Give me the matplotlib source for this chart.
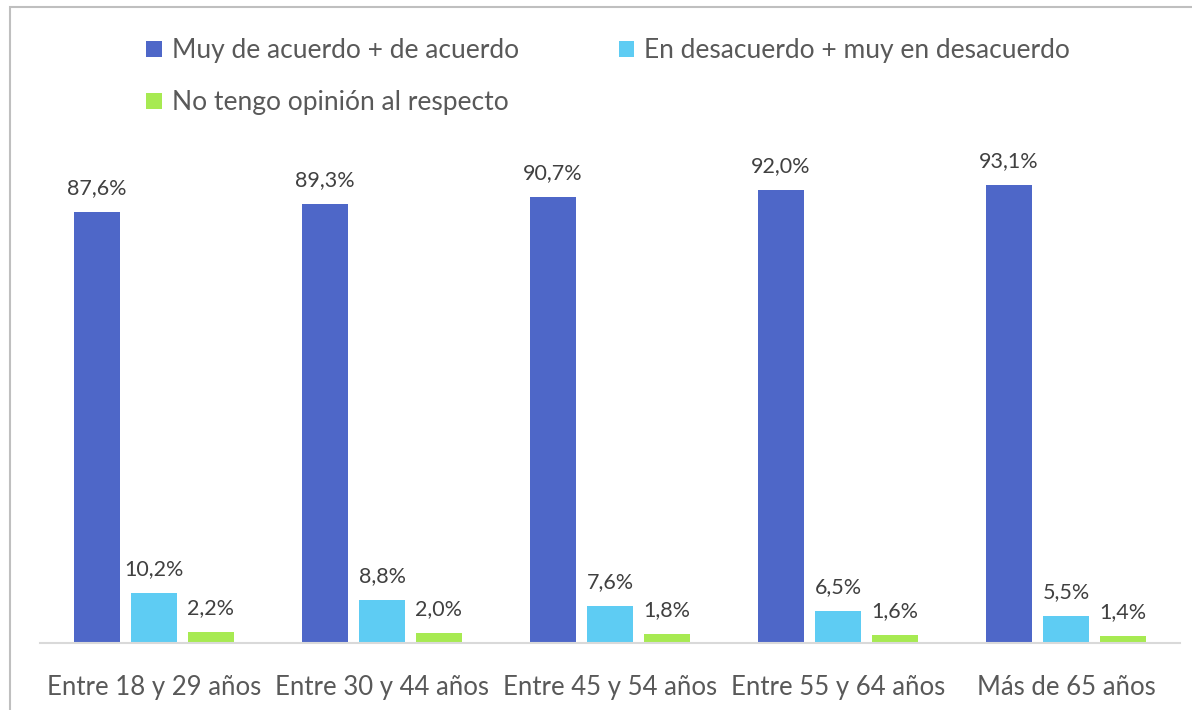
import numpy as np
import matplotlib.pyplot as plt
from matplotlib.patches import Rectangle

plt.rcParams['font.family'] = ['Lato', 'DejaVu Sans']

# datos
categorias = ['Entre 18 y 29 años', 'Entre 30 y 44 años', 'Entre 45 y 54 años',
              'Entre 55 y 64 años', 'Más de 65 años']
de_acuerdo = [87.6, 89.3, 90.7, 92.0, 93.1]
desacuerdo = [10.2, 8.8, 7.6, 6.5, 5.5]
sin_opinion = [2.2, 2.0, 1.8, 1.6, 1.4]
series = ['Muy de acuerdo + de acuerdo', 'En desacuerdo + muy en desacuerdo',
          'No tengo opinión al respecto']
colores = ['#4E67C8', '#5ECCF3', '#A7EA52']

fig = plt.figure(figsize=(11.92, 7.10), dpi=100)
# marco del grafico
fig.patches.append(Rectangle((10/1192, -0.1), 1.2, 0.1 + (710-7)/710,
                             transform=fig.transFigure, fill=False,
                             edgecolor='#BFBFBF', linewidth=1.5))

ax = fig.add_axes([40/1192, 67/710, 1140/1192, 492/710])
x = np.arange(len(categorias))
w = 0.2
off = 0.25
handles = []
for i, (vals, nombre) in enumerate(zip([de_acuerdo, desacuerdo, sin_opinion], series)):
    barras = ax.bar(x + (i - 1) * off, vals, w, color=colores[i], label=nombre)
    handles.append(barras)
    for b, v in zip(barras, vals):
        ax.annotate(f'{v:.1f}%'.replace('.', ','),
                    (b.get_x() + b.get_width() / 2, v),
                    xytext=(0, 10), textcoords='offset points',
                    ha='center', va='bottom', fontsize=15.5, color='#404040')

ax.set_xlim(-0.5, 4.5)
ax.set_ylim(0, 100)
ax.set_yticks([])
ax.set_xticks(x)
ax.set_xticklabels(categorias, fontsize=18.5, color='#595959')
ax.tick_params(axis='x', length=0, pad=23)
for s in ['top', 'right', 'left']:
    ax.spines[s].set_visible(False)
ax.spines['bottom'].set_color('#D9D9D9')
ax.spines['bottom'].set_linewidth(1.5)

# orden para que quede: fila 1 azul y celeste, fila 2 verde
orden = [0, 2, 1]
fig.legend([handles[k] for k in orden], [series[k] for k in orden],
           loc='upper left', bbox_to_anchor=(128/1192, 1 - 20/710), ncol=2,
           frameon=False, fontsize=19, labelcolor='#595959',
           handlelength=0.57, handleheight=0.57, handletextpad=0.38,
           columnspacing=3.8, labelspacing=1.02, borderpad=0.2)

fig.savefig('out.png', dpi=100)
